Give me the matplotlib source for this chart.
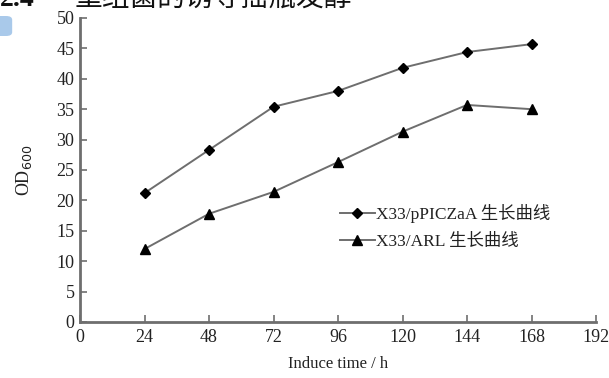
import matplotlib.pyplot as plt
from matplotlib.patches import FancyBboxPatch

# 诱导时间与两株菌的 OD600
hours = [24, 48, 72, 96, 120, 144, 168]
od_ppicza = [21.2, 28.3, 35.4, 38.0, 41.8, 44.4, 45.7]
od_arl = [12.0, 17.8, 21.4, 26.3, 31.3, 35.7, 35.0]
x_ticks = [0, 24, 48, 72, 96, 120, 144, 168, 192]
y_ticks = [0, 5, 10, 15, 20, 25, 30, 35, 40, 45, 50]

fonts = ['Liberation Serif', 'Noto Sans CJK SC']
plt.rcParams['font.family'] = fonts

fig = plt.figure(figsize=(6.09, 3.78), dpi=100)
ax = fig.add_axes([80 / 609, 1 - 322 / 378, 516 / 609, 304 / 378])

gray = '#6e6e6e'
ax.plot(hours, od_ppicza, color=gray, lw=1.4, marker='D', ms=5.5,
        mfc='black', mec='black', label='X33/pPICZaA 生长曲线')
ax.plot(hours, od_arl, color=gray, lw=1.4, marker='^', ms=7,
        mfc='black', mec='black', label='X33/ARL 生长曲线')

ax.set_xlim(0, 192)
ax.set_ylim(0, 50)
ax.set_xticks(x_ticks)
ax.set_yticks(y_ticks)
for s in ['top', 'right']:
    ax.spines[s].set_visible(False)
for s in ['left', 'bottom']:
    ax.spines[s].set_color(gray)
    ax.spines[s].set_linewidth(2)
ax.tick_params(axis='both', direction='in', length=5, width=1.2,
               color=gray, labelsize=13, labelcolor='#222222')
ax.tick_params(axis='x', pad=5)
ax.tick_params(axis='y', pad=4)

ax.set_xlabel('Induce time / h', fontsize=12, color='#222222', labelpad=7)
ax.set_ylabel('OD$_{600}$', fontsize=13, color='#222222', labelpad=16)

leg = ax.legend(loc='upper left', bbox_to_anchor=(0.49, 0.41), frameon=False,
                handlelength=2.0, handletextpad=0.1,
                borderaxespad=0, labelspacing=0.6,
                prop={'family': fonts, 'size': 12.5})
for t in leg.get_texts():
    t.set_color('#222222')

# 页面顶部被裁掉的小标题和左侧蓝色块
fig.text(0.0, 1.0, '2.4', fontsize=20, fontweight='bold',
         ha='left', va='center', color='#111111')
fig.text(75 / 609, 1.0, '重组菌的诱导摇瓶发酵', fontsize=20,
         ha='left', va='center', color='#111111')
fig.patches.append(FancyBboxPatch((-0.02, 1 - 36 / 378), 0.04, 20 / 378,
                                  boxstyle='round,pad=0,rounding_size=0.01',
                                  transform=fig.transFigure, color='#a9c9ea',
                                  lw=0, figure=fig))

fig.savefig('out.png', dpi=100)
